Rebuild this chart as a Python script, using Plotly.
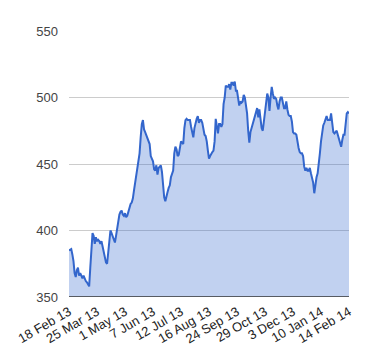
import plotly.graph_objects as go

# Daily closing values, 18 Feb 2013 .. 14 Feb 2014 (251 trading days)
values = [
    385, 385.5, 386, 382, 377, 368, 365, 370, 372, 366,
    368, 366, 364, 366, 363, 362, 361, 359, 358, 372,
    382, 398, 396, 390, 395, 392, 393, 392, 390, 392,
    388, 383, 378, 376, 375, 382, 393, 400, 398, 395,
    392, 391, 396, 402, 410, 412, 414, 415, 412, 411,
    413, 410, 411, 414, 418, 420, 421, 424, 430, 436,
    442, 450, 454, 458, 470, 480, 483, 476, 474, 472,
    470, 468, 465, 456, 453, 452, 446, 445, 449, 442,
    447, 448, 449, 444, 434, 425, 422, 427, 429, 432,
    434, 440, 442, 445, 458, 463, 461, 456, 457, 461,
    467, 466, 465, 477, 483, 484, 483, 483, 483, 478,
    474, 470, 477, 481, 484, 486, 481, 483, 483, 481,
    475, 472, 471, 467, 460, 454, 456, 458, 459, 460,
    467, 484, 478, 473, 480, 480, 478, 480, 495, 500,
    509, 508, 508, 510, 506, 511, 511, 509, 512, 505,
    505, 499, 494, 497, 496, 497, 502, 500, 495, 488,
    475, 466, 474, 477, 480, 484, 486, 490, 492, 485,
    491, 484, 477, 475, 481, 490, 497, 503, 500, 490,
    500, 508, 503, 499, 500, 499, 494, 491, 497, 500,
    500, 494, 492, 492, 497, 491, 487, 486, 486, 482,
    474, 473, 473, 472, 466, 462, 459, 458, 458, 456,
    448, 445, 447, 445, 445, 447, 443, 440, 436, 428,
    435, 440, 443, 449, 458, 467, 474, 479, 481, 483,
    486, 483, 483, 483, 488, 480, 474, 473, 474, 475,
    472, 469, 466, 463, 468, 472, 472, 478, 488, 489,
    488,
]

tick_labels = ["18 Feb 13", "25 Mar 13", "1 May 13", "7 Jun 13", "12 Jul 13",
               "16 Aug 13", "24 Sep 13", "29 Oct 13", "3 Dec 13", "10 Jan 14",
               "14 Feb 14"]
tick_step = 25

y_ticks = [350, 400, 450, 500, 550]

x = list(range(len(values)))
tick_positions = [i * tick_step for i in range(len(tick_labels))]

fig = go.Figure()
fig.add_trace(go.Scatter(
    x=x, y=values, mode="lines",
    line=dict(color="#3366cc", width=2),
    fill="tozeroy", fillcolor="rgba(51,102,204,0.3)",
    hoverinfo="skip",
))

font_family = "Liberation Sans, Arial, sans-serif"
# The page body adds an 8px margin, so the figure is sized 8px smaller
fig.update_layout(
    width=372, height=352,
    margin=dict(l=61, r=31, t=23, b=63),
    paper_bgcolor="white", plot_bgcolor="white",
    showlegend=False,
    font=dict(family=font_family, size=13, color="#444444"),
    xaxis=dict(
        range=[0, len(values) - 1], automargin=False,
        tickmode="array", tickvals=tick_positions, ticktext=tick_labels,
        tickangle=-30, showgrid=False, zeroline=False,
        showline=False, ticks="", ticklabelstandoff=4,
        tickfont=dict(size=13, color="#222222"),
    ),
    yaxis=dict(
        range=[y_ticks[0], y_ticks[-1]], automargin=False,
        tickmode="array", tickvals=y_ticks,
        showgrid=True, gridcolor="#cccccc", gridwidth=1,
        zeroline=False, showline=False, ticks="",
        ticklabelstandoff=10, tickfont=dict(size=13, color="#444444"),
    ),
)
fig.add_shape(type="line", xref="paper", yref="y", x0=0, x1=1, y0=350, y1=350,
              line=dict(color="#333333", width=1.5), layer="above")

fig.write_html("out.html")
